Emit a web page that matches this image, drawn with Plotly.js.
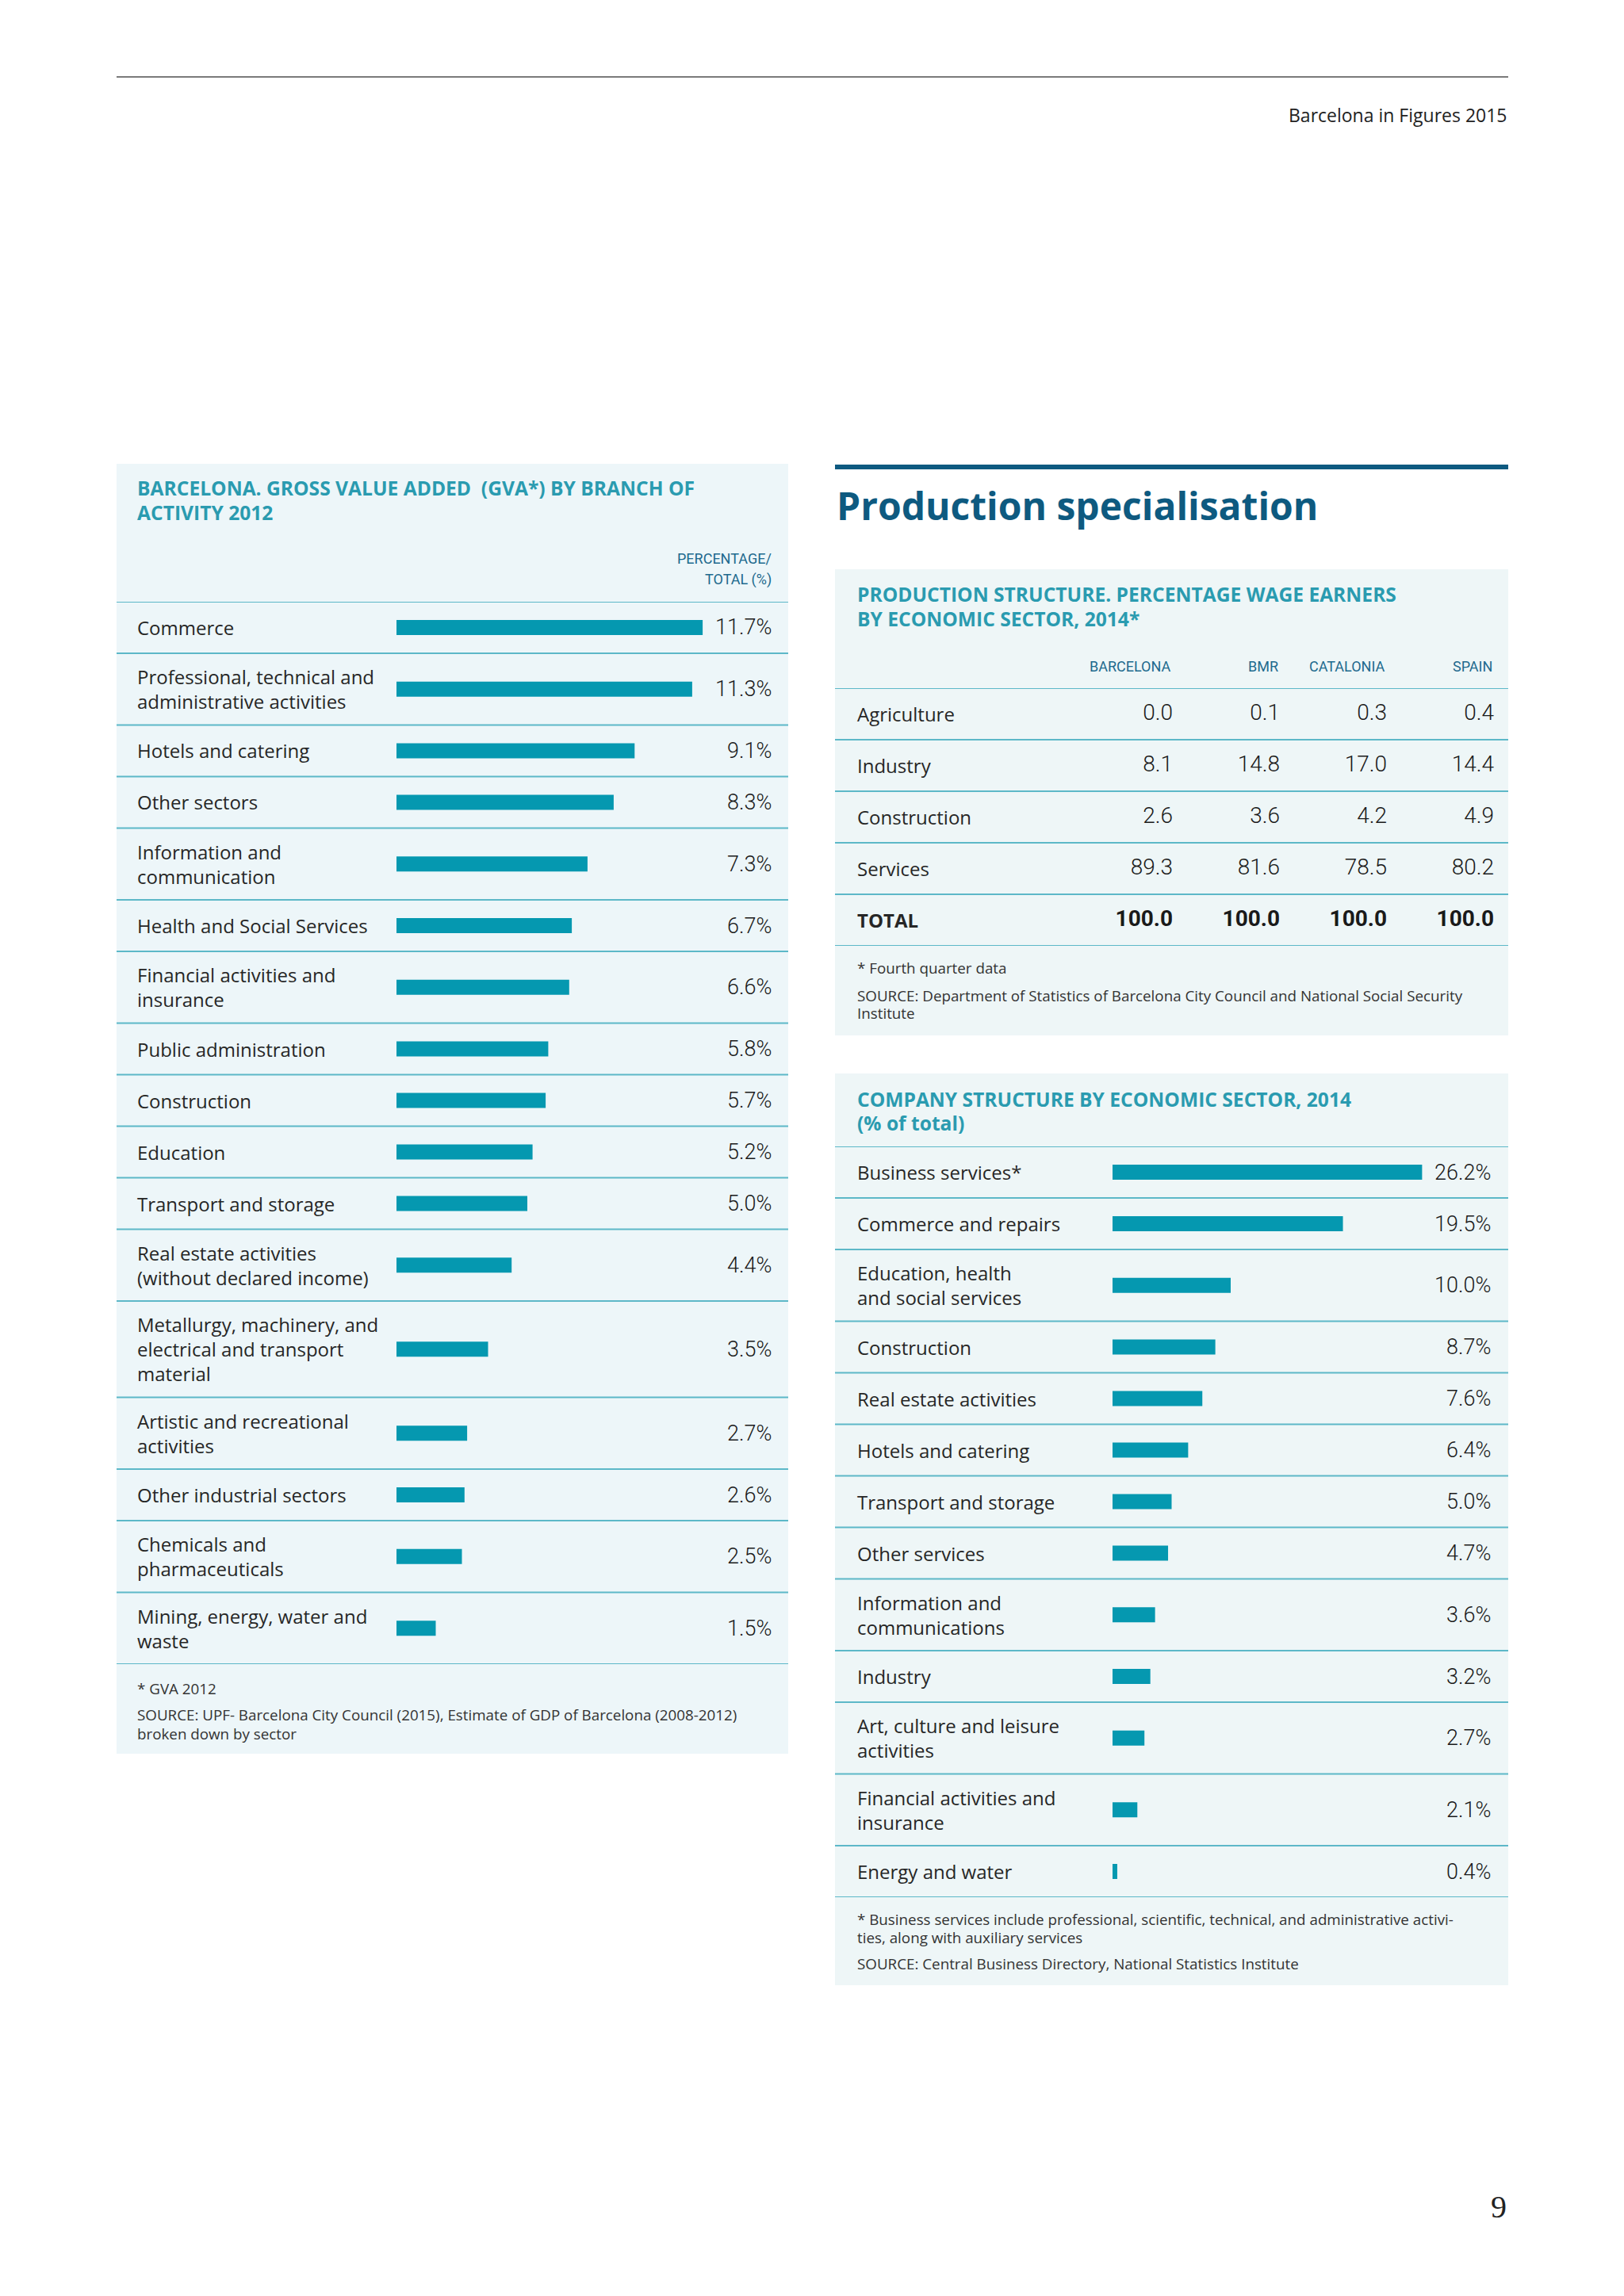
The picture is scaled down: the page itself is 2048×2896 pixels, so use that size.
<!DOCTYPE html>
<html><head><meta charset="utf-8">
<script src="https://cdn.plot.ly/plotly-3.0.1.min.js"></script>
<style>html,body{margin:0;padding:0;background:#fff}</style>
</head><body><div id="chart" style="width:2048px;height:2896px"></div>
<script>
// ---------- DATA ----------
const gvaLabels = [
  'Commerce',
  'Professional, technical and<br>administrative activities',
  'Hotels and catering',
  'Other sectors',
  'Information and<br>communication',
  'Health and Social Services',
  'Financial activities and<br>insurance',
  'Public administration',
  'Construction',
  'Education',
  'Transport and storage',
  'Real estate activities<br>(without declared income)',
  'Metallurgy, machinery, and<br>electrical and transport<br>material',
  'Artistic and recreational<br>activities',
  'Other industrial sectors',
  'Chemicals and<br>pharmaceuticals',
  'Mining, energy, water and<br>waste'
];
const gvaValues = [11.7, 11.3, 9.1, 8.3, 7.3, 6.7, 6.6, 5.8, 5.7, 5.2, 5.0, 4.4, 3.5, 2.7, 2.6, 2.5, 1.5];

const compLabels = [
  'Business services*',
  'Commerce and repairs',
  'Education, health<br>and social services',
  'Construction',
  'Real estate activities',
  'Hotels and catering',
  'Transport and storage',
  'Other services',
  'Information and<br>communications',
  'Industry',
  'Art, culture and leisure<br>activities',
  'Financial activities and<br>insurance',
  'Energy and water'
];
const compValues = [26.2, 19.5, 10.0, 8.7, 7.6, 6.4, 5.0, 4.7, 3.6, 3.2, 2.7, 2.1, 0.4];

const tableRows = ['Agriculture', 'Industry', 'Construction', 'Services', 'TOTAL'];
const tableCols = ['BARCELONA', 'BMR', 'CATALONIA', 'SPAIN'];
const tBarcelona = [0.0, 8.1, 2.6, 89.3, 100.0];
const tBMR       = [0.1, 14.8, 3.6, 81.6, 100.0];
const tCatalonia = [0.3, 17.0, 4.2, 78.5, 100.0];
const tSpain     = [0.4, 14.4, 4.9, 80.2, 100.0];

// ---------- STYLE / LAYOUT HELPERS ----------
const W = 2048, HP = 2896;
const X = p => p / W;
const Y = p => 1 - p / HP;
const ROWH = [0, 65, 90.5, 121.5];
const LINE_PITCH = 31;
const BAR = '#0598B0', RULE = '#5DB8C8', TEAL = '#2A9BB0', DARK = '#0E5A80', HEAD = '#1E6A8E', TXT = '#262626', NUMC = '#1a1a1a';
const LABEL_FONT = 'Open Sans, Noto Sans, sans-serif';
const NUM_FONT = 'Roboto, sans-serif';

function rows(labels) {
  let c = 0; const centers = [], bounds = [0];
  labels.forEach(l => { const h = ROWH[l.split('<br>').length]; centers.push(c + h / 2); c += h; bounds.push(c); });
  return { centers, bounds, total: c };
}

const traces = [], annotations = [], shapes = [];
const layout = {
  width: W, height: HP, margin: { l: 0, r: 0, t: 0, b: 0 },
  paper_bgcolor: '#ffffff', plot_bgcolor: 'rgba(0,0,0,0)',
  showlegend: false, hovermode: false
};
const hiddenAxis = extra => Object.assign({ visible: false, showgrid: false, zeroline: false, fixedrange: true }, extra);

function barPanel(cfg) {
  const r = rows(cfg.labels);
  const ax = cfg.axis;           // '' or '2'
  const xa = 'x' + ax, ya = 'y' + ax;
  layout['xaxis' + ax] = hiddenAxis({ domain: [X(cfg.barX0), X(cfg.xEnd)], range: [0, (cfg.xEnd - cfg.barX0) / cfg.pxPer], anchor: ya });
  layout['yaxis' + ax] = hiddenAxis({ domain: [Y(cfg.top + r.total), Y(cfg.top)], range: [r.total, 0], anchor: xa });
  traces.push({
    type: 'bar', orientation: 'h', x: cfg.values, y: r.centers, width: 19,
    marker: { color: BAR, line: { width: 0 } }, xaxis: xa, yaxis: ya, hoverinfo: 'skip'
  });
  cfg.labels.forEach((lab, i) => {
    const lines = lab.split('<br>'); const n = lines.length;
    lines.forEach((t, k) => annotations.push({
      xref: 'paper', yref: ya, x: X(cfg.labelX), y: r.centers[i], xanchor: 'left', yanchor: 'middle',
      yshift: ((n - 1) / 2 - k) * LINE_PITCH, text: t, showarrow: false,
      font: { family: LABEL_FONT, size: 24, color: TXT }
    }));
    annotations.push({
      xref: 'paper', yref: ya, x: X(cfg.valueX), y: r.centers[i], xanchor: 'right', yanchor: 'middle',
      text: cfg.values[i].toFixed(1) + '%', showarrow: false,
      font: { family: NUM_FONT, size: 27, color: NUMC, weight: 300 }
    });
  });
  r.bounds.forEach(b => shapes.push({
    type: 'line', xref: 'paper', yref: ya, x0: X(cfg.panelX0), x1: X(cfg.panelX1), y0: b, y1: b,
    line: { color: RULE, width: 2 }
  }));
}

// panel backgrounds
shapes.push({ type: 'rect', layer: 'below', xref: 'paper', yref: 'paper', x0: X(147), x1: X(994), y0: Y(2212), y1: Y(585), fillcolor: '#EDF6F9', line: { width: 0 } });
shapes.push({ type: 'rect', layer: 'below', xref: 'paper', yref: 'paper', x0: X(1053), x1: X(1902), y0: Y(1306), y1: Y(718), fillcolor: '#EEF6F7', line: { width: 0 } });
shapes.push({ type: 'rect', layer: 'below', xref: 'paper', yref: 'paper', x0: X(1053), x1: X(1902), y0: Y(2504), y1: Y(1354), fillcolor: '#EEF6F7', line: { width: 0 } });
// top rule and heading rule
shapes.push({ type: 'line', xref: 'paper', yref: 'paper', x0: X(147), x1: X(1902), y0: Y(97), y1: Y(97), line: { color: '#7a7a7a', width: 2 } });
shapes.push({ type: 'line', xref: 'paper', yref: 'paper', x0: X(1053), x1: X(1902), y0: Y(589), y1: Y(589), line: { color: DARK, width: 6 } });

function txt(x, y, text, font, xanchor) {
  annotations.push({ xref: 'paper', yref: 'paper', x: X(x), y: Y(y), text, showarrow: false,
    xanchor: xanchor || 'left', yanchor: 'middle', font });
}

// header text
txt(1902, 145, 'Barcelona in Figures 2015', { family: LABEL_FONT, size: 23, color: '#222' }, 'right');
txt(1902, 2783, '9', { family: 'Liberation Serif, DejaVu Serif, serif', size: 40, color: '#222' }, 'right');

// ---------- GVA panel ----------
const titleFont = { family: LABEL_FONT, size: 24.6, color: TEAL, weight: 700 };
const headFont = { family: NUM_FONT, size: 18, color: HEAD, weight: 400 };
txt(171, 615, 'BARCELONA. GROSS VALUE ADDED  (GVA*) BY BRANCH OF', titleFont);
txt(171, 646, 'ACTIVITY 2012', titleFont);
txt(975, 704, 'PERCENTAGE/', headFont, 'right');
txt(975, 731, 'TOTAL (%)', headFont, 'right');
barPanel({ labels: gvaLabels, values: gvaValues, axis: '', top: 759, barX0: 500, xEnd: 994, pxPer: 33,
  labelX: 171, valueX: 975, panelX0: 147, panelX1: 994 });
const noteFont = { family: LABEL_FONT, size: 18.8, color: '#333' };
txt(171, 2130, '* GVA 2012', noteFont);
txt(171, 2163, 'SOURCE: UPF- Barcelona City Council (2015), Estimate of GDP of Barcelona (2008-2012)', noteFont);
txt(171, 2187, 'broken down by sector', noteFont);

// ---------- Production specialisation ----------
txt(1053, 637, 'Production specialisation', { family: LABEL_FONT, size: 48, color: DARK, weight: 700 });
txt(1079, 749, 'PRODUCTION STRUCTURE. PERCENTAGE WAGE EARNERS', titleFont);
txt(1079, 780, 'BY ECONOMIC SECTOR, 2014*', titleFont);

layout.xaxis3 = hiddenAxis({ type: 'category', categoryarray: tableCols, categoryorder: 'array',
  domain: [X(1409.5 + 2), X(1949.5 + 2)], range: [-0.5, 3.5], anchor: 'y3' });
layout.yaxis3 = hiddenAxis({ type: 'category', categoryarray: tableRows, categoryorder: 'array',
  domain: [Y(1193), Y(868)], range: [4.5, -0.5], anchor: 'x3' });
const tColumns = [tBarcelona, tBMR, tCatalonia, tSpain];
const tx = [], ty = [], tt = [];
tColumns.forEach((col, c) => col.forEach((v, r) => {
  tx.push(tableCols[c]); ty.push(tableRows[r]);
  tt.push(tableRows[r] === 'TOTAL' ? '<b>' + v.toFixed(1) + '</b>' : v.toFixed(1));
}));
traces.push({ type: 'scatter', mode: 'text', x: tx, y: ty, text: tt, textposition: 'middle left',
  textfont: { family: NUM_FONT, size: 28, color: NUMC, weight: 300 }, xaxis: 'x3', yaxis: 'y3', hoverinfo: 'skip', cliponaxis: false });
tableCols.forEach(c => annotations.push({ xref: 'x3', yref: 'paper', x: c, y: Y(840), xanchor: 'right', yanchor: 'middle',
  text: c, showarrow: false, font: headFont }));
tableRows.forEach(r => annotations.push({ xref: 'paper', yref: 'y3', x: X(1079), y: r, xanchor: 'left', yanchor: 'middle',
  text: r, showarrow: false, font: { family: LABEL_FONT, size: 24, color: TXT, weight: r === 'TOTAL' ? 700 : 400 } }));
for (let i = 0; i <= tableRows.length; i++) shapes.push({ type: 'line', xref: 'paper', yref: 'y3',
  x0: X(1053), x1: X(1902), y0: i - 0.5, y1: i - 0.5, line: { color: RULE, width: 2 } });
txt(1079, 1221, '* Fourth quarter data', noteFont);
txt(1079, 1256, 'SOURCE: Department of Statistics of Barcelona City Council and National Social Security', noteFont);
txt(1079, 1278, 'Institute', noteFont);

// ---------- Company structure ----------
txt(1079, 1386, 'COMPANY STRUCTURE BY ECONOMIC SECTOR, 2014', titleFont);
txt(1079, 1416, '(% of total)', titleFont);
barPanel({ labels: compLabels, values: compValues, axis: '2', top: 1446, barX0: 1403, xEnd: 1902, pxPer: 14.9,
  labelX: 1079, valueX: 1882, panelX0: 1053, panelX1: 1902 });
txt(1079, 2421, '* Business services include professional, scientific, technical, and administrative activi-', noteFont);
txt(1079, 2444, 'ties, along with auxiliary services', noteFont);
txt(1079, 2477, 'SOURCE: Central Business Directory, National Statistics Institute', noteFont);

layout.annotations = annotations;
layout.shapes = shapes;
Plotly.newPlot('chart', traces, layout, { staticPlot: true, displayModeBar: false });
</script></body></html>
